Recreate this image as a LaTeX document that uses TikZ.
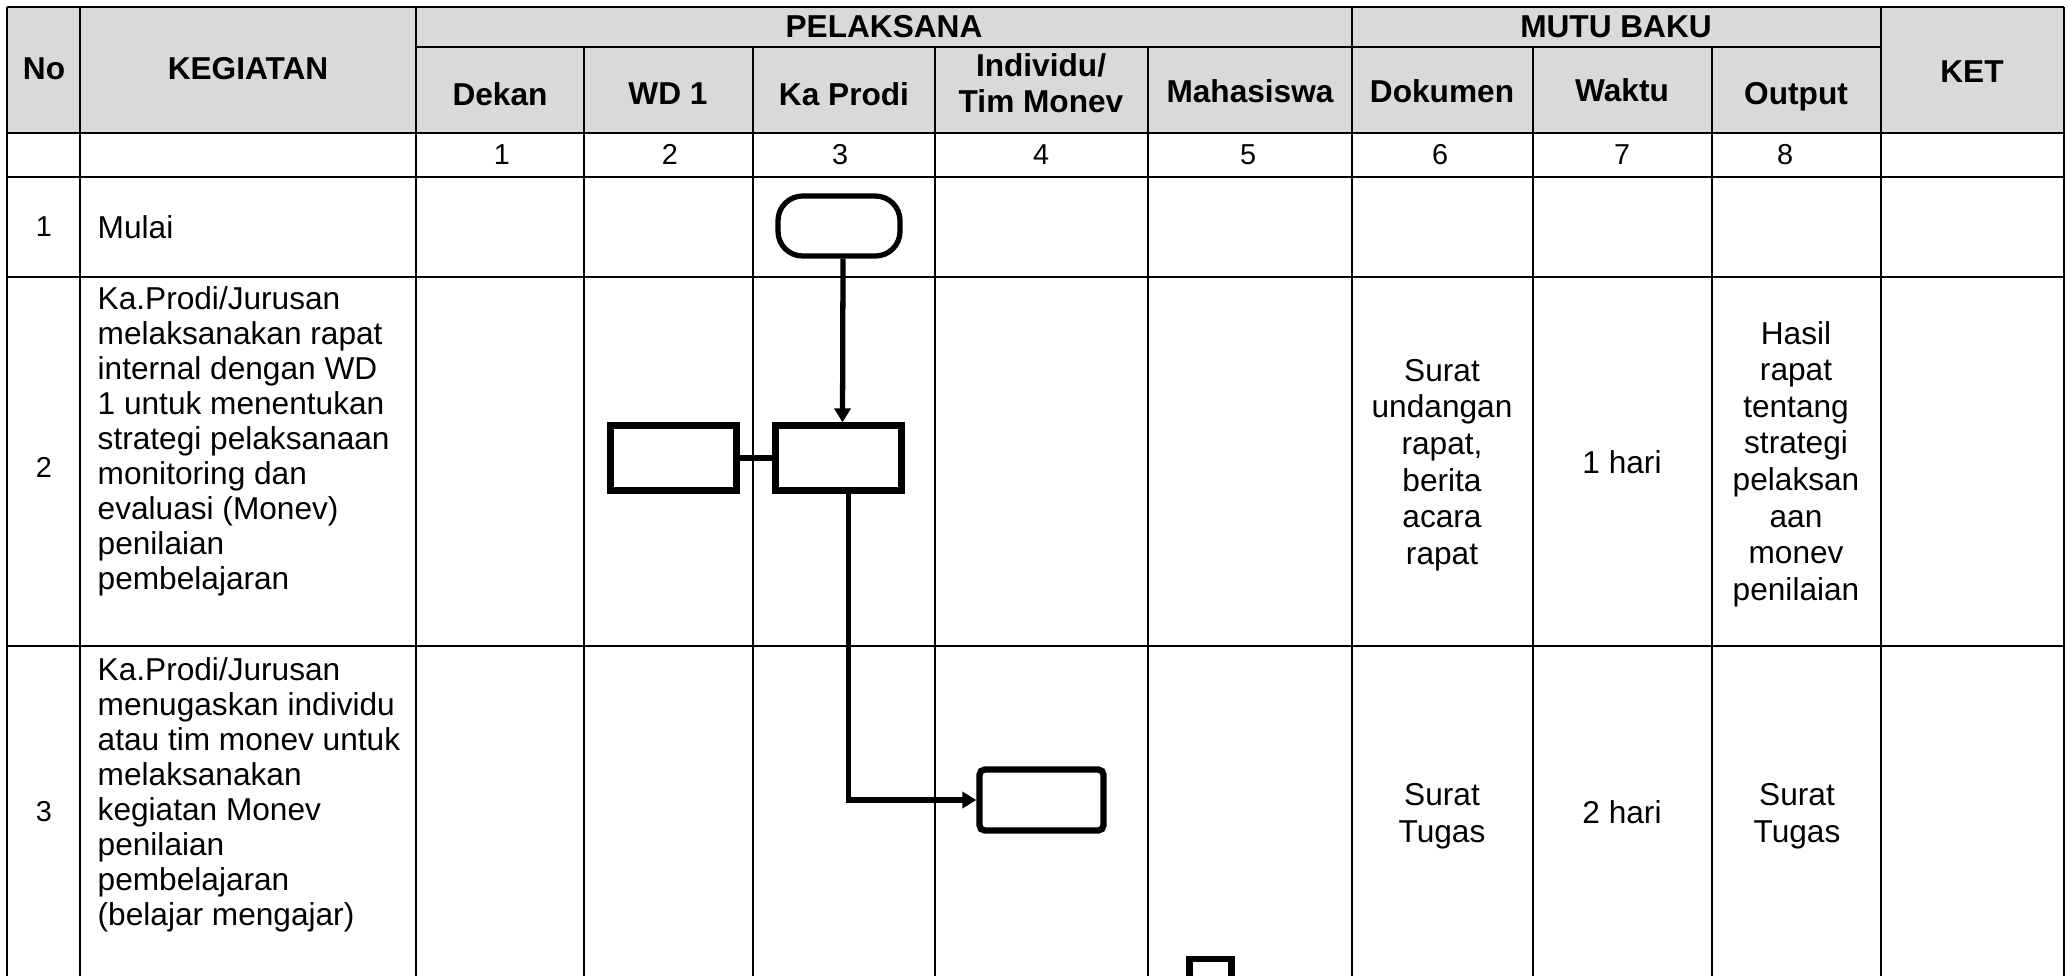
\documentclass[tikz,border=0pt]{standalone}
\usepackage{fontspec}
\setmainfont{Liberation Sans}
\usepackage{tikz}
\usetikzlibrary{positioning,
                calc,
                arrows.meta}
\definecolor{headgray}{HTML}{D9D9D9}

\begin{document}
\begin{tikzpicture}[x=1cm,y=1cm]

%--------------------------------------------------
% STYLES
%--------------------------------------------------

\tikzset{
gridline/.style={line width=0.75pt},
cellhead/.style={
font=\fontsize{9}{10.4}\selectfont\bfseries,
align=center,
inner sep=0pt
},
cellnum/.style={
font=\fontsize{8.2}{9.6}\selectfont,
inner sep=0pt
},
celltext/.style={
font=\fontsize{9}{9.95}\selectfont,
align=left,
inner sep=0pt
},
cellmutu/.style={
font=\fontsize{9}{10.4}\selectfont,
align=center,
inner sep=0pt
},
startbox/.style={
draw=black,
line width=1.5pt,
rounded corners=7pt,
minimum width=1.22cm,
minimum height=0.60cm
},
procbox/.style={
draw=black,
line width=1.8pt,
minimum width=1.26cm,
minimum height=0.65cm,
inner sep=0pt
},
flowline/.style={
line width=1.5pt,
-{Triangle[length=0.14cm,width=0.16cm]}
}
}

\clip (0,0) rectangle (20.68,-9.75);

%--------------------------------------------------
% FRAME
%--------------------------------------------------

\fill[headgray] (0.07,-0.07) rectangle (20.64,-1.33);

\draw[gridline] (0.07,-0.07)--(20.64,-0.07);
\draw[gridline] (4.16,-0.47)--(18.81,-0.47);
\draw[gridline] (0.07,-1.33)--(20.64,-1.33);
\draw[gridline] (0.07,-1.77)--(20.64,-1.77);
\draw[gridline] (0.07,-2.77)--(20.64,-2.77);
\draw[gridline] (0.07,-6.46)--(20.64,-6.46);

\foreach \x in {0.07,0.80,4.16,13.52,18.81,20.64}
{
\draw[gridline]
(\x,-0.07)--(\x,-9.80);
}

\foreach \x in {5.84,7.53,9.35,11.48,15.33,17.12}
{
\draw[gridline]
(\x,-0.47)--(\x,-9.80);
}

%--------------------------------------------------
% HEADERS
%--------------------------------------------------

\node[cellhead] (hno) at (0.44,-0.69)
{No};

\node[cellhead] (hkegiatan) at (2.48,-0.69)
{KEGIATAN};

\node[cellhead] (hpelaksana) at (8.84,-0.27)
{PELAKSANA};

\node[cellhead] (hmutu) at (16.16,-0.27)
{MUTU BAKU};

\node[cellhead] (hket) at (19.72,-0.72)
{KET};

\node[cellhead] (hdekan) at (5.00,-0.94)
{Dekan};

\node[cellhead] (hwd) at (6.68,-0.94)
{WD 1};

\node[cellhead] (hprodi) at (8.44,-0.94)
{Ka Prodi};

\node[cellhead] (htim) at (10.41,-0.83)
{Individu/\\Tim Monev};

\node[cellhead] (hmhs) at (12.50,-0.91)
{Mahasiswa};

\node[cellhead] (hdok) at (14.42,-0.91)
{Dokumen};

\node[cellhead] (hwaktu) at (16.22,-0.90)
{Waktu};

\node[cellhead] (houtput) at (17.96,-0.97)
{Output};

\foreach \i/\x in {1/5.02,2/6.70,3/8.40,4/10.41,5/12.48,6/14.40,7/16.22,8/17.85}
{
\node[cellnum] (num\i) at (\x,-1.545) {\i};
}

%--------------------------------------------------
% ROW 1
%--------------------------------------------------

\node[cellnum] (no1) at (0.44,-2.27)
{1};

\node[celltext,anchor=west] (keg1) at (0.97,-2.27)
{Mulai};

\node[startbox] (mulai) at (8.39,-2.26)
{};

%--------------------------------------------------
% ROW 2
%--------------------------------------------------

\node[cellnum] (no2) at (0.44,-4.67)
{2};

\node[celltext,anchor=north west] (keg2) at (0.97,-2.86)
{Ka.Prodi/Jurusan\\melaksanakan rapat\\internal dengan WD\\1 untuk menentukan\\strategi pelaksanaan\\monitoring dan\\evaluasi (Monev)\\penilaian\\pembelajaran};

\node[procbox] (wdrapat) at (6.735,-4.58)
{};

\node[procbox] (prodirapat) at (8.385,-4.58)
{};

\node[cellmutu] (dok2) at (14.42,-4.65)
{Surat\\undangan\\rapat,\\berita\\acara\\rapat};

\node[cellmutu] (waktu2) at (16.22,-4.62)
{1 hari};

\node[cellmutu] (out2) at (17.96,-4.64)
{Hasil\\rapat\\tentang\\strategi\\pelaksan\\aan\\monev\\penilaian};

%--------------------------------------------------
% ROW 3
%--------------------------------------------------

\node[cellnum] (no3) at (0.44,-8.12)
{3};

\node[celltext,anchor=north west] (keg3) at (0.97,-6.57)
{Ka.Prodi/Jurusan\\menugaskan individu\\atau tim monev untuk\\melaksanakan\\kegiatan Monev\\penilaian\\pembelajaran\\(belajar mengajar)};

\node[procbox,rounded corners=1.5pt,minimum width=1.24cm,minimum height=0.61cm] (timmonev) at (10.415,-8.00)
{};

\node[procbox,anchor=north,minimum width=0.42cm,minimum height=0.6cm] (mhsbox) at (12.105,-9.555)
{};

\node[cellmutu] (dok3) at (14.42,-8.16)
{Surat\\Tugas};

\node[cellmutu] (waktu3) at (16.22,-8.125)
{2 hari};

\node[cellmutu] (out3) at (17.97,-8.16)
{Surat\\Tugas};

%--------------------------------------------------
% CONNECTORS
%--------------------------------------------------

\draw[flowline] ([xshift=0.04cm]mulai.south) -- ([xshift=0.04cm]prodirapat.north);

\draw[line width=1.5pt] (wdrapat) -- (prodirapat);

\draw[flowline] ([xshift=0.10cm]prodirapat.south) |- (timmonev.west);

\end{tikzpicture}
\end{document}
